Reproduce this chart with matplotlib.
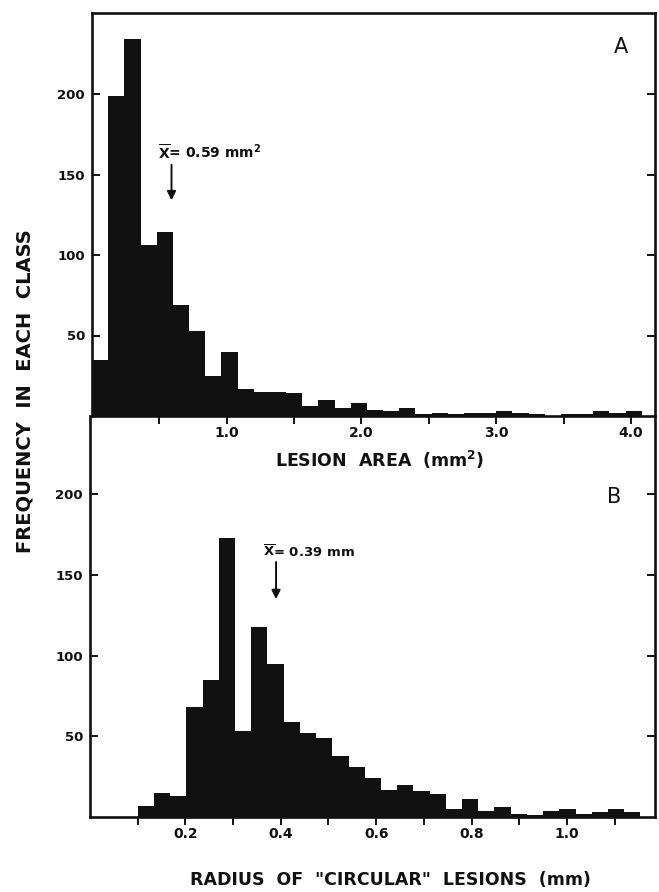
import matplotlib
matplotlib.use('Agg')
import matplotlib.pyplot as plt
import numpy as np

plt.rcParams['font.family'] = ['DejaVu Sans']
plt.rcParams['mathtext.fontset'] = 'dejavusans'

# ---------------- data ----------------
# Panel A: lesion area (mm^2)
area_start = 0.0
area_width = 0.12
area_counts = [35, 199, 234, 106, 114, 69, 53, 25, 40, 17, 15, 15, 14, 6, 10, 5,
               8, 4, 3, 5, 1, 2, 1, 2, 2, 3, 2, 1, 0, 1, 1, 3, 2, 3]
area_ticks = [0.5, 1.0, 1.5, 2.0, 2.5, 3.0, 3.5, 4.0]
area_ticklabels = ['', '1.0', '', '2.0', '', '3.0', '', '4.0']
area_mean = 0.59

# Panel B: radius of "circular" lesions (mm)
radius_start = 0.1
radius_width = 0.034
radius_counts = [7, 15, 13, 68, 85, 173, 53, 118, 95, 59, 52, 49, 38, 31, 24, 17,
                 20, 16, 14, 5, 11, 4, 6, 2, 1, 4, 5, 2, 3, 5, 3]
radius_ticks = [0.1, 0.2, 0.3, 0.4, 0.5, 0.6, 0.7, 0.8, 0.9, 1.0, 1.1]
radius_ticklabels = ['', '0.2', '', '0.4', '', '0.6', '', '0.8', '', '1.0', '']
radius_mean = 0.39

yticks = [50, 100, 150, 200]
yticklabels = ['50', '100', '150', '200']

# ---------------- layout ----------------
W, H = 659, 892
fig = plt.figure(figsize=(W / 100, H / 100), dpi=100)
fig.patch.set_facecolor('white')

axB = fig.add_axes([90 / W, 1 - 817 / H, (655 - 90) / W, (817 - 416) / H])
axA = fig.add_axes([92 / W, 1 - 416 / H, (655 - 92) / W, (416 - 13) / H])
axB.set_facecolor('none')
axA.set_facecolor('none')
axA.set_zorder(3)
axB.set_zorder(2)

ink = '#111111'
spine_lw = 1.9


def draw(ax, start, width, counts, ticks, ticklabels, xmax, ymax):
    edges = start + width * np.arange(len(counts))
    ax.bar(edges, counts, width=width, align='edge', color=ink, linewidth=0)
    ax.set_xlim(0, xmax)
    ax.set_ylim(0, ymax)
    ax.set_xticks(ticks)
    ax.set_xticklabels(ticklabels, fontsize=10, fontweight='bold')
    ax.set_yticks(yticks)
    ax.set_yticklabels(yticklabels, fontsize=9.5, fontweight='bold')
    ax.tick_params(axis='x', direction='out', length=6, width=1.4, pad=1.5, colors=ink)
    ax.tick_params(axis='y', direction='in', length=5.5, width=1.4, pad=5,
                   left=True, right=True, colors=ink)
    for s in ax.spines.values():
        s.set_linewidth(spine_lw)
        s.set_color(ink)


draw(axA, area_start, area_width, area_counts, area_ticks, area_ticklabels,
     (655 - 92) / 134.75, (416 - 13) / 1.61)
draw(axB, radius_start, radius_width, radius_counts, radius_ticks, radius_ticklabels,
     (655 - 90) / 477.0, (817 - 416) / 1.614)
axB.spines['top'].set_visible(False)

# mean annotations
axA.annotate('', xy=(area_mean, 134), xytext=(area_mean, 156),
             arrowprops=dict(arrowstyle='-|>', color=ink, lw=1.4, mutation_scale=13,
                             shrinkA=0, shrinkB=0))
axA.text(0.49, 164, r'$\overline{\mathbf{X}}$= 0.59 mm$^{\mathbf{2}}$', ha='left',
         va='center', fontsize=10, fontweight='bold', color=ink)

axB.annotate('', xy=(radius_mean, 135), xytext=(radius_mean, 158),
             arrowprops=dict(arrowstyle='-|>', color=ink, lw=1.4, mutation_scale=13,
                             shrinkA=0, shrinkB=0))
axB.text(0.362, 164, r'$\overline{\mathbf{X}}$= 0.39 mm', ha='left',
         va='center', fontsize=9.5, fontweight='bold', color=ink)

# panel letters
fig.text(621 / W, 1 - 47 / H, 'A', ha='center', va='center', fontsize=15, color=ink)
fig.text(614 / W, 1 - 497 / H, 'B', ha='center', va='center', fontsize=15, color=ink)

# axis labels
fig.text(380 / W, 1 - 460 / H, 'LESION  AREA  (mm$^{\\mathbf{2}}$)', ha='center', va='center',
         fontsize=12.5, fontweight='bold', color=ink)
fig.text(390 / W, 1 - 880 / H, 'RADIUS  OF  "CIRCULAR"  LESIONS  (mm)', ha='center',
         va='center', fontsize=12.5, fontweight='bold', color=ink)
fig.text(25 / W, 1 - 391 / H, 'FREQUENCY  IN  EACH  CLASS', ha='center', va='center',
         rotation=90, fontsize=14, fontweight='bold', color=ink)

fig.savefig('out.png', dpi=100, facecolor='white')
